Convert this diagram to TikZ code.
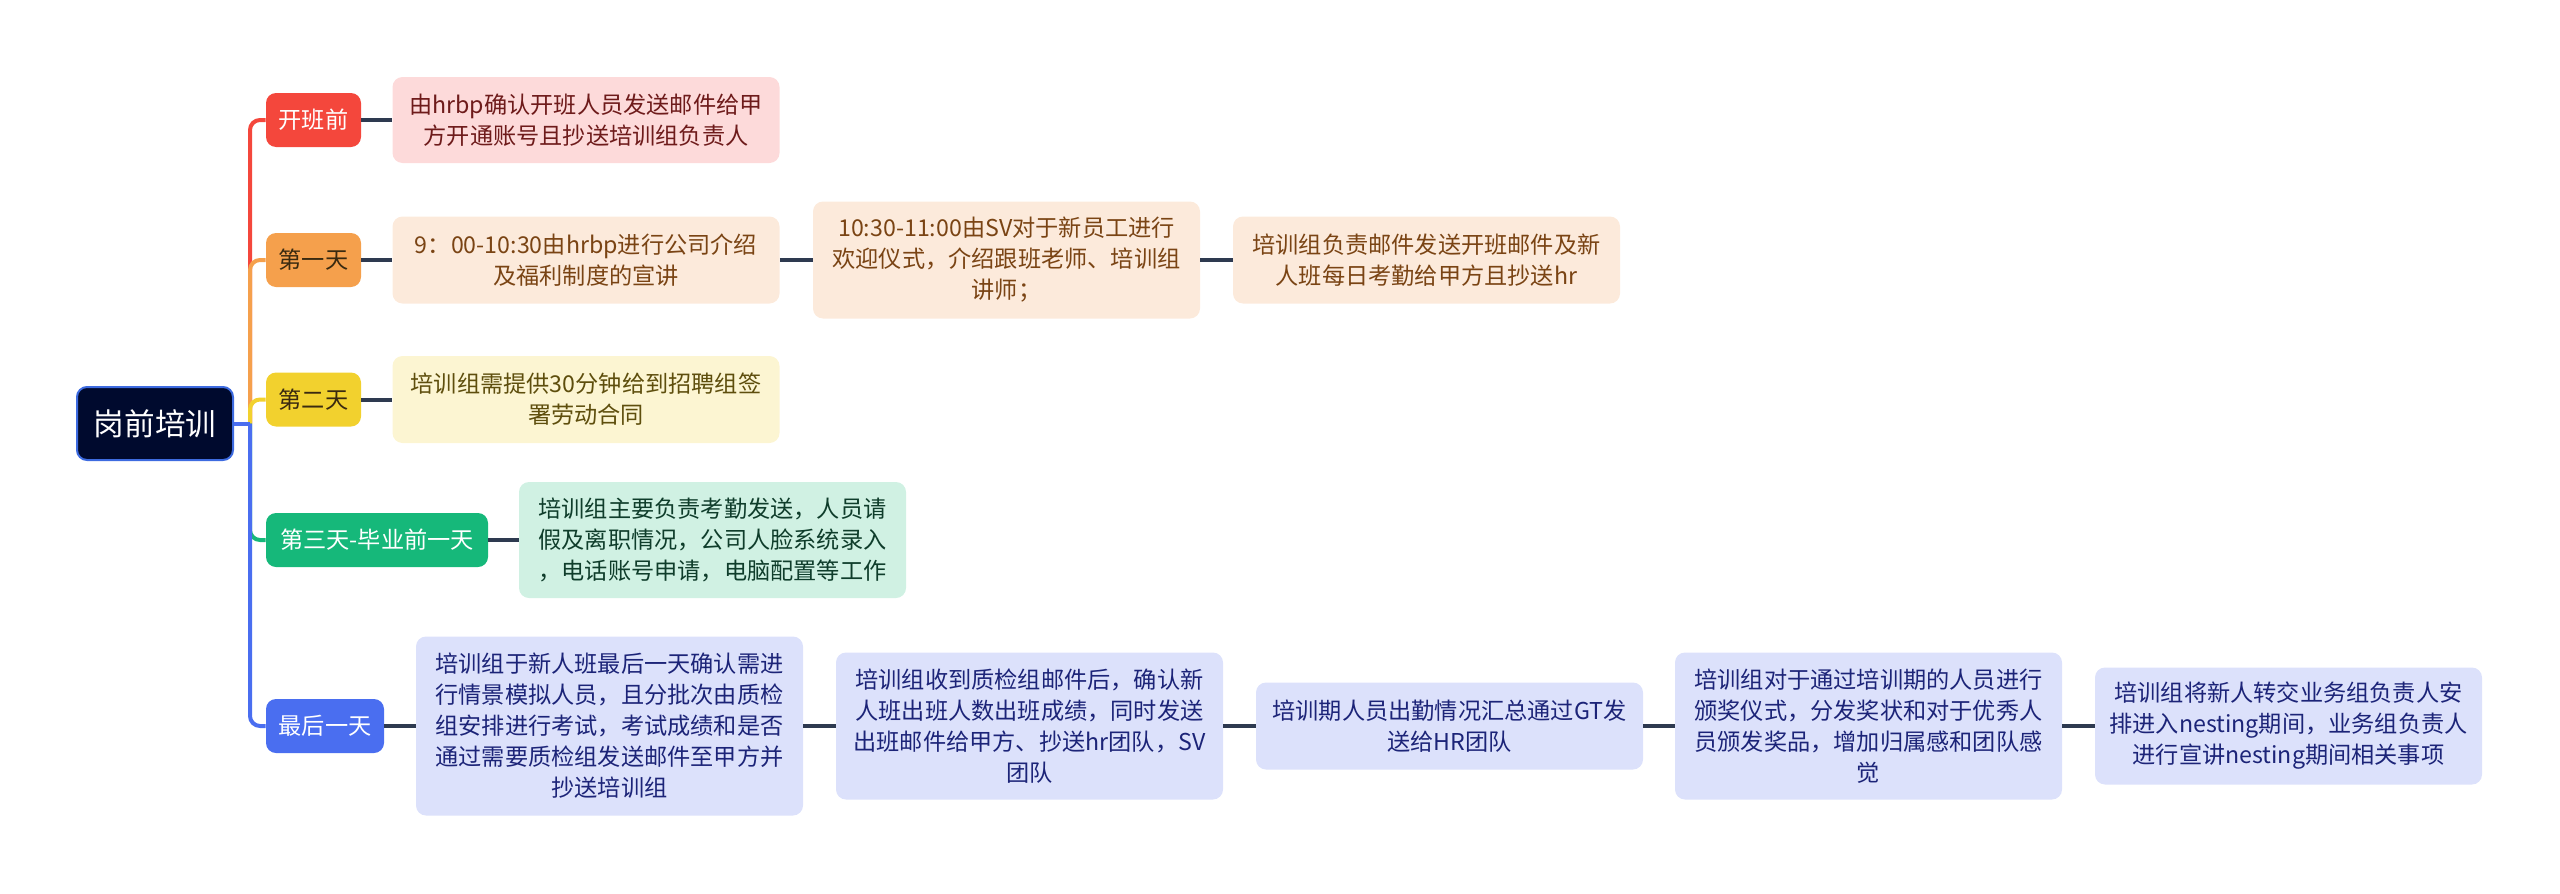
\documentclass[tikz,border=0pt]{standalone}
\usepackage{fontspec}
\setmainfont{Noto Sans CJK SC}
\definecolor{cRed}{HTML}{F4473C}
\definecolor{cOrange}{HTML}{F5A04C}
\definecolor{cYellow}{HTML}{F2D12E}
\definecolor{cGreen}{HTML}{16B87A}
\definecolor{cBlue}{HTML}{4A6EF0}
\definecolor{cRoot}{HTML}{000A2E}
\definecolor{cRootB}{HTML}{3D6BE0}
\definecolor{fPink}{HTML}{FDDADA}
\definecolor{tPink}{HTML}{6E1B1B}
\definecolor{fPeach}{HTML}{FCEADB}
\definecolor{tPeach}{HTML}{7A4414}
\definecolor{fCream}{HTML}{FCF5D2}
\definecolor{tCream}{HTML}{5E4E0D}
\definecolor{fMint}{HTML}{D0F1E3}
\definecolor{tMint}{HTML}{0F3D2B}
\definecolor{fLav}{HTML}{DCE1FB}
\definecolor{tLav}{HTML}{1C2478}
\definecolor{tDark}{HTML}{3A2A10}
\definecolor{linec}{HTML}{2E3A50}
\tikzset{
  base/.style={rounded corners=5pt, align=center, inner sep=0pt,
    font=\fontsize{11.6}{15.5}\selectfont},
  topic/.style={base, minimum height=27pt},
  sub/.style={base, minimum width=193.5pt},
  rootnode/.style={rounded corners=5pt, align=center, inner sep=0pt,
    fill=cRoot, draw=cRootB, line width=1pt, text=white,
    minimum width=78pt, minimum height=36.5pt,
    font=\fontsize{15.3}{18}\selectfont},
  link/.style={draw=linec, line width=2pt},
  branch/.style={line width=2pt, rounded corners=5pt},
}
\begin{document}
\begin{tikzpicture}[x=0.5pt, y=-0.5pt]
\useasboundingbox (0,0) rectangle (2560,894);

% root
\node[rootnode] (root) at (155,423.5) {岗前培训};
\coordinate (hub) at (250,423.5);

% topics
\node[topic, fill=cRed, text=white, minimum width=47.5pt] (t1) at (313.5,120) {开班前};
\node[topic, fill=cOrange, text=tDark, minimum width=47.5pt] (t2) at (313.5,260) {第一天};
\node[topic, fill=cYellow, text=tDark, minimum width=47.5pt] (t3) at (313.5,399.5) {第二天};
\node[topic, fill=cGreen, text=white, minimum width=111pt] (t4) at (377,540) {第三天-毕业前一天};
\node[topic, fill=cBlue, text=white, minimum width=59pt] (t5) at (325,726) {最后一天};

% branches
\draw[branch, draw=cRed] (hub) |- (t1.west);
\draw[branch, draw=cOrange] (hub) |- (t2.west);
\draw[branch, draw=cYellow] (hub) |- (t3.west);
\draw[branch, draw=cGreen] (hub) |- (t4.west);
\draw[branch, draw=cBlue] (hub) |- (t5.west);
\draw[line width=2pt, draw=cBlue] (root.east) -- (hub);

% sub nodes
\node[sub, fill=fPink, text=tPink, minimum height=43pt] (a1) at (586,120)
  {由hrbp确认开班人员发送邮件给甲\\方开通账号且抄送培训组负责人};

\node[sub, fill=fPeach, text=tPeach, minimum height=43.5pt] (b1) at (586,260)
  {9：00-10:30由hrbp进行公司介绍\\及福利制度的宣讲};
\node[sub, fill=fPeach, text=tPeach, minimum height=58.5pt] (b2) at (1006.5,260)
  {10:30-11:00由SV对于新员工进行\\欢迎仪式，介绍跟班老师、培训组\\讲师；};
\node[sub, fill=fPeach, text=tPeach, minimum height=43.5pt] (b3) at (1426.5,260)
  {培训组负责邮件发送开班邮件及新\\人班每日考勤给甲方且抄送hr};

\node[sub, fill=fCream, text=tCream, minimum height=43.5pt] (c1) at (586,399.5)
  {培训组需提供30分钟给到招聘组签\\署劳动合同};

\node[sub, fill=fMint, text=tMint, minimum height=58pt] (d1) at (712.5,540)
  {培训组主要负责考勤发送，人员请\\假及离职情况，公司人脸系统录入\\，电话账号申请，电脑配置等工作};

\node[sub, fill=fLav, text=tLav, minimum height=89.5pt] (e1) at (609.5,726)
  {培训组于新人班最后一天确认需进\\行情景模拟人员，且分批次由质检\\组安排进行考试，考试成绩和是否\\通过需要质检组发送邮件至甲方并\\抄送培训组};
\node[sub, fill=fLav, text=tLav, minimum height=73.5pt] (e2) at (1029.5,726)
  {培训组收到质检组邮件后，确认新\\人班出班人数出班成绩，同时发送\\出班邮件给甲方、抄送hr团队，SV\\团队};
\node[sub, fill=fLav, text=tLav, minimum height=43.5pt] (e3) at (1449.5,726)
  {培训期人员出勤情况汇总通过GT发\\送给HR团队};
\node[sub, fill=fLav, text=tLav, minimum height=73.5pt] (e4) at (1868.5,726)
  {培训组对于通过培训期的人员进行\\颁奖仪式，分发奖状和对于优秀人\\员颁发奖品，增加归属感和团队感\\觉};
\node[sub, fill=fLav, text=tLav, minimum height=58.5pt] (e5) at (2288.5,726)
  {培训组将新人转交业务组负责人安\\排进入nesting期间，业务组负责人\\进行宣讲nesting期间相关事项};

% links
\draw[link] (t1.east) -- (a1.west);
\draw[link] (t2.east) -- (b1.west);
\draw[link] (b1.east) -- (b2.west);
\draw[link] (b2.east) -- (b3.west);
\draw[link] (t3.east) -- (c1.west);
\draw[link] (t4.east) -- (d1.west);
\draw[link] (t5.east) -- (e1.west);
\draw[link] (e1.east) -- (e2.west);
\draw[link] (e2.east) -- (e3.west);
\draw[link] (e3.east) -- (e4.west);
\draw[link] (e4.east) -- (e5.west);
\end{tikzpicture}
\end{document}
